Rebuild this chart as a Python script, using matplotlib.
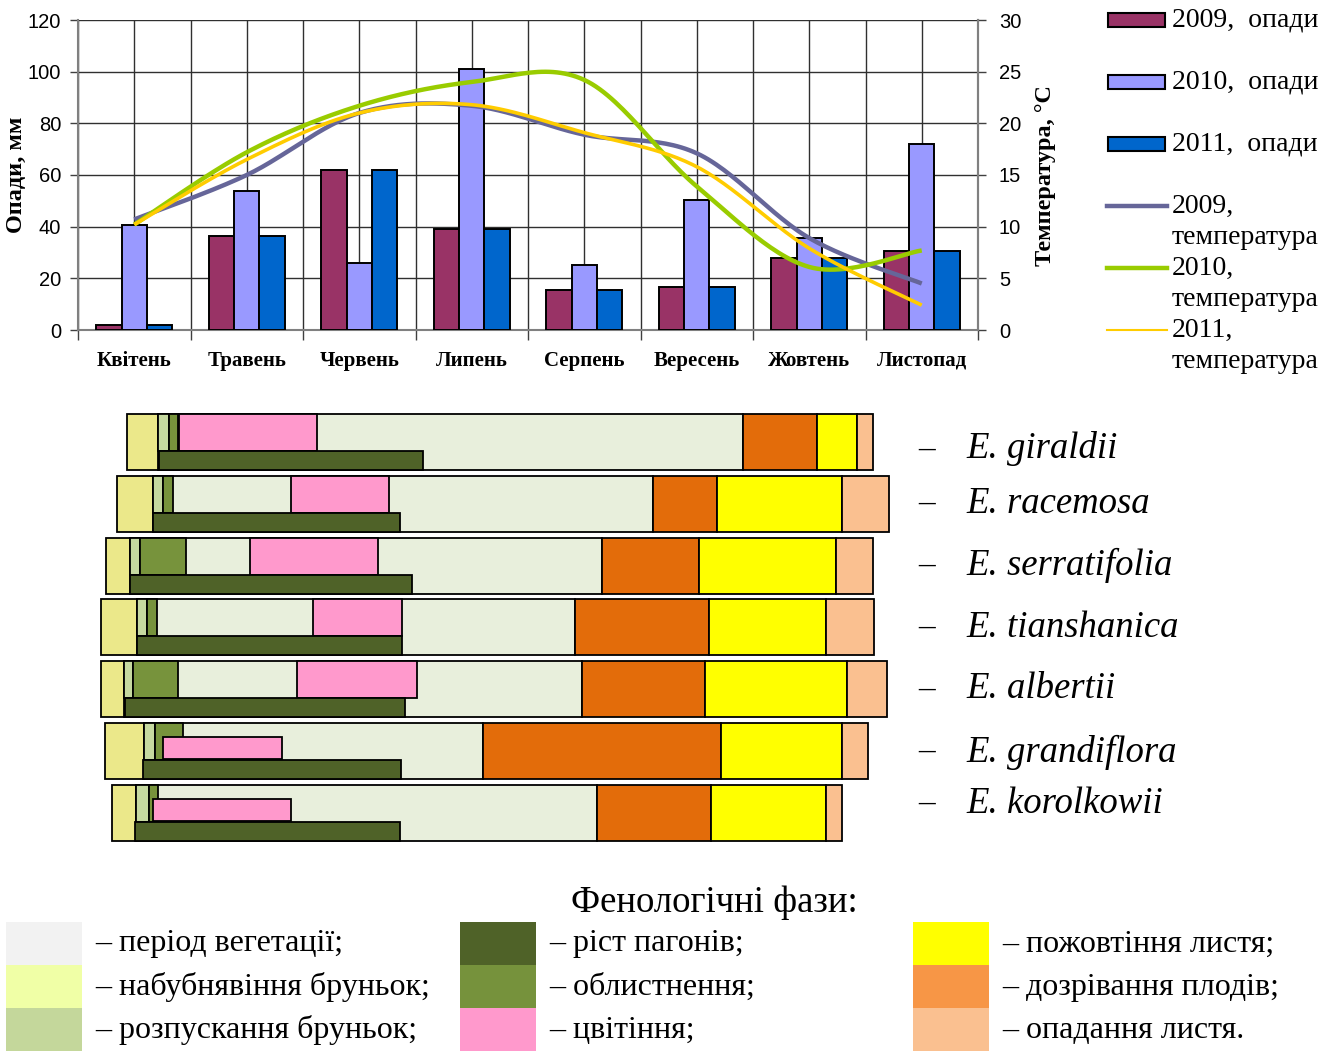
import numpy as np
import matplotlib
matplotlib.use("Agg")
import matplotlib.pyplot as plt
from matplotlib.patches import Rectangle
from matplotlib.lines import Line2D

# ---------------- data ----------------
months = ['Квітень', 'Травень', 'Червень', 'Липень', 'Серпень', 'Вересень', 'Жовтень', 'Листопад']
prec_2009 = [2, 36.5, 62, 39, 15.5, 16.5, 28, 30.5]
prec_2010 = [40.5, 54, 26, 101, 25, 50.5, 35.5, 72]
prec_2011 = [2, 36.5, 62, 39, 15.5, 16.5, 28, 30.5]
temp_2009 = [10.7, 15.0, 21.0, 21.7, 18.9, 17.1, 8.9, 4.5]
temp_2010 = [10.2, 17.2, 21.7, 24.0, 24.2, 13.9, 6.1, 7.7]
temp_2011 = [10.2, 16.5, 21.0, 21.8, 19.1, 15.8, 7.9, 2.4]
series_labels = ['2009,  опади', '2010,  опади', '2011,  опади',
                 '2009,\nтемпература', '2010,\nтемпература', '2011,\nтемпература']

species = ['E. giraldii', 'E. racemosa', 'E. serratifolia', 'E. tianshanica',
           'E. albertii', 'E. grandiflora', 'E. korolkowii']
# phase boundaries along the season time line (picture units)
swell_start = [127, 117, 106, 101, 101, 105, 112]
swell_end = [158, 153, 130, 137, 124, 144, 136]
bud_end = [169, 163, 140, 147, 133, 155, 149]
leaf_end = [178, 173, 186, 157, 178, 183, 158]
flower_start = [179, 291, 250, 313, 297, 163, 153]
flower_end = [317, 389, 378, 402, 417, 282, 291]
shoot_start = [159, 153, 130, 137, 125, 143, 135]
shoot_end = [423, 400, 412, 402, 405, 401, 400]
fruit_start = [743, 653, 602, 575, 582, 483, 597]
yellow_start = [817, 717, 699, 709, 705, 721, 711]
fall_start = [857, 842, 836, 826, 847, 842, 826]
season_end = [873, 889, 873, 874, 887, 868, 842]

phase_legend = ['– період вегетації;', '– набубнявіння бруньок;', '– розпускання бруньок;',
                '– ріст пагонів;', '– облистнення;', '– цвітіння;',
                '– пожовтіння листя;', '– дозрівання плодів;', '– опадання листя.']
phase_legend_colors = ['#f2f2f2', '#f0ffa6', '#c4d79b', '#4f6228', '#76923c', '#ff99cc',
                       '#ffff00', '#f79646', '#fac090']

# ---------------- styles ----------------
bar_colors = ['#993366', '#9999ff', '#0066cc']
line_colors = ['#666699', '#99cc00', '#ffcc00']
SERIF = ['Liberation Serif', 'DejaVu Serif']
SANS = ['Liberation Sans', 'DejaVu Sans']

W, H = 1341, 1052
fig = plt.figure(figsize=(W / 100, H / 100), dpi=100)


def fx(px):
    return px / W


def fy(py):
    return 1 - py / H


# ---------------- top chart ----------------
ax = fig.add_axes([fx(78), fy(330), fx(978) - fx(78), fy(20) - fy(330)])
n = len(months)
x = np.arange(n)
bw = 0.225
for k, vals in enumerate([prec_2009, prec_2010, prec_2011]):
    ax.bar(x + (k - 1) * bw, vals, bw, color=bar_colors[k], edgecolor='black',
           linewidth=1.4, zorder=3)
ax.set_xlim(-0.5, n - 0.5)
ax.set_ylim(0, 120)
ax.set_yticks(np.arange(0, 121, 20))
ax.set_xticks(np.arange(-0.5, n, 1.0))
ax.set_xticklabels([])
ax.set_xticks(x, minor=True)
ax.set_xticklabels(months, minor=True, fontfamily=SERIF, fontweight='bold', fontsize=15)
ax.tick_params(axis='x', which='major', length=7, width=1, color='#404040')
ax.tick_params(axis='x', which='minor', length=0, pad=15)
ax.tick_params(axis='y', length=6, width=1, color='#404040', labelsize=14.5, pad=6)
for lab in ax.get_yticklabels():
    lab.set_fontfamily(SANS)
ax.grid(True, which='both', axis='x', color='#303030', linewidth=1, zorder=0)
ax.grid(True, which='major', axis='y', color='#303030', linewidth=1, zorder=0)
ax.spines['top'].set_visible(False)
for s in ['left', 'bottom', 'right']:
    ax.spines[s].set_color('#808080')
    ax.spines[s].set_linewidth(1.5)
ax.set_ylabel('Опади, мм', fontfamily=SERIF, fontweight='bold', fontsize=17.5, labelpad=1)

ax2 = ax.twinx()
ax2.set_ylim(0, 30)
ax2.set_yticks(np.arange(0, 31, 5))
ax2.tick_params(axis='y', length=6, width=1, color='#404040', labelsize=14.5, pad=9)
for lab in ax2.get_yticklabels():
    lab.set_fontfamily(SANS)
for s in ['top', 'left', 'bottom']:
    ax2.spines[s].set_visible(False)
ax2.spines['right'].set_color('#808080')
ax2.spines['right'].set_linewidth(1.5)
ax2.set_ylabel('Температура, °С', fontfamily=SERIF, fontweight='bold', fontsize=17.5, labelpad=10)


def smooth(xs, ys, m=30):
    P = np.column_stack([xs, ys]).astype(float)
    out = []
    N = len(P)
    for i in range(N - 1):
        p0 = P[max(i - 1, 0)]
        p1 = P[i]
        p2 = P[i + 1]
        p3 = P[min(i + 2, N - 1)]
        c1 = p1 + (p2 - p0) / 6
        c2 = p2 - (p3 - p1) / 6
        t = np.linspace(0, 1, m)[:, None]
        seg = ((1 - t) ** 3) * p1 + 3 * ((1 - t) ** 2) * t * c1 + 3 * (1 - t) * t ** 2 * c2 + t ** 3 * p2
        out.append(seg if i == 0 else seg[1:])
    out = np.vstack(out)
    return out[:, 0], out[:, 1]


lws = [3.2, 3.2, 2.6]
for k, vals in enumerate([temp_2009, temp_2010, temp_2011]):
    sx, sy = smooth(x, vals)
    ax2.plot(sx, sy, color=line_colors[k], linewidth=lws[k], solid_capstyle='butt', zorder=4)

# legend on the right (manual)
ly0 = 20
for i, lab in enumerate(series_labels):
    yy = ly0 + 62 * i
    if i < 3:
        fig.add_artist(Rectangle((fx(1108), fy(yy + 7)), fx(57), (14 / H),
                                 transform=fig.transFigure, facecolor=bar_colors[i],
                                 edgecolor='black', linewidth=1.5))
    else:
        fig.add_artist(Line2D([fx(1107), fx(1167)], [fy(yy), fy(yy)], transform=fig.transFigure,
                              color=line_colors[i - 3], linewidth=[3.2, 3.2, 1.5][i - 3]))
    lines = lab.split('\n')
    for j, ln in enumerate(lines):
        fig.text(fx(1172), fy(yy + 31 * j), ln, fontfamily=SERIF, fontsize=20,
                 ha='left', va='center')

# ---------------- phenology chart ----------------
axp = fig.add_axes([0, 0, 1, 1])
axp.set_xlim(0, W)
axp.set_ylim(H, 0)
axp.axis('off')
axp.patch.set_alpha(0)

c_swell = '#ebe88a'
c_bud = '#c6d9a0'
c_leaf = '#77933c'
c_veg = '#e8efdc'
c_flower = '#ff99cc'
c_shoot = '#4f6228'
c_fruit = '#e36c0a'
c_yellow = '#ffff00'
c_fall = '#fac090'
ELW = 1.3


def hbar(y0, h, a, b, color, z):
    axp.barh(y0 + h / 2, b - a, left=a, height=h, color=color, edgecolor='black',
             linewidth=ELW, zorder=z)


label_shift = [5, -2, -2, -2, -2, -1, -11]
for i, sp in enumerate(species):
    T = 414 + 61.8 * i
    Hm = 56
    hb = 37
    hbar(T, Hm, swell_end[i], fruit_start[i], c_veg, 2)
    hbar(T, Hm, swell_start[i], swell_end[i], c_swell, 3)
    hbar(T, Hm, fruit_start[i], yellow_start[i], c_fruit, 3)
    hbar(T, Hm, yellow_start[i], fall_start[i], c_yellow, 3)
    hbar(T, Hm, fall_start[i], season_end[i], c_fall, 3)
    hbar(T, hb, swell_end[i], bud_end[i], c_bud, 4)
    hbar(T, hb, bud_end[i], leaf_end[i], c_leaf, 4)
    if flower_start[i] < leaf_end[i]:
        hbar(T + 14, 22, flower_start[i], flower_end[i], c_flower, 5)
    else:
        hbar(T, hb, flower_start[i], flower_end[i], c_flower, 5)
    hbar(T + hb, Hm - hb, shoot_start[i], shoot_end[i], c_shoot, 6)
    yc = T + 30 + label_shift[i]
    axp.text(927, yc, '–', fontfamily=SERIF, fontsize=24, ha='center', va='center')
    axp.text(966, yc, sp, fontfamily=SERIF, fontstyle='italic', fontsize=26.5,
             ha='left', va='center')

# ---------------- phase legend ----------------
axp.text(714, 903, 'Фенологічні фази:', fontfamily=SERIF, fontsize=26.5, ha='center', va='center')
col_x = [6, 460, 913]
for j in range(9):
    c = j // 3
    r = j % 3
    y0 = 922 + 43 * r
    axp.add_patch(Rectangle((col_x[c], y0), 76, 43, facecolor=phase_legend_colors[j],
                            edgecolor='none', zorder=2))
    axp.text(col_x[c] + 89, y0 + 22, phase_legend[j], fontfamily=SERIF, fontsize=23,
             ha='left', va='center')

fig.savefig('out.png', dpi=100)
